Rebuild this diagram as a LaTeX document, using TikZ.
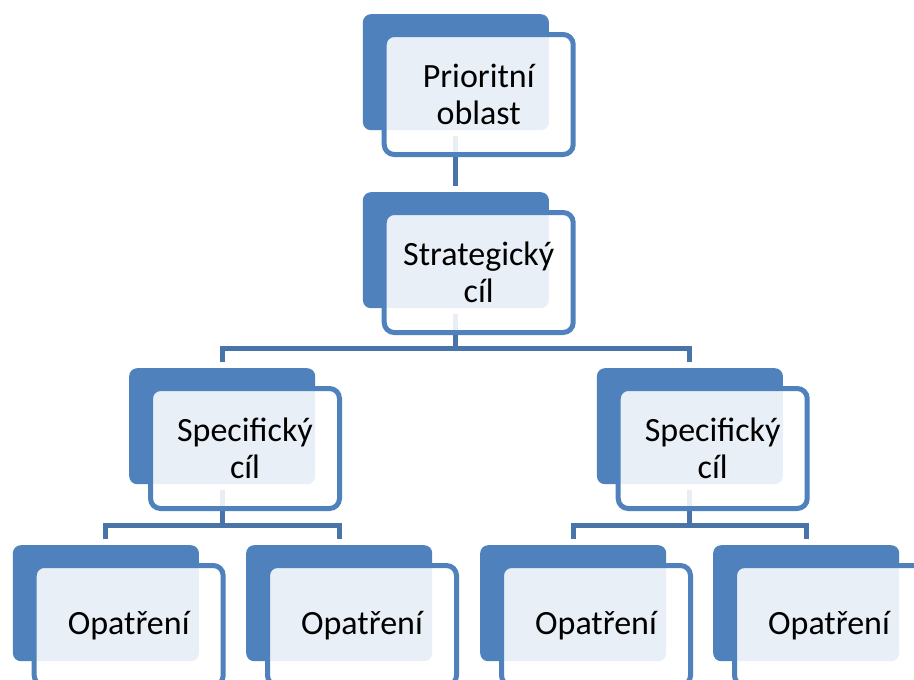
\documentclass[tikz,border=0pt]{standalone}
\usepackage{fontspec}
\setmainfont{Carlito}
\usetikzlibrary{calc}
\definecolor{accblue}{HTML}{4F81BD}
\definecolor{connblue}{RGB}{72,116,170}
\tikzset{
  darkbox/.style={rectangle, rounded corners=8pt, fill=accblue, draw=none,
    minimum width=186pt, minimum height=116pt, inner sep=0pt, anchor=north west},
  frontbox/.style={rectangle, rounded corners=10pt, draw=accblue, line width=5pt,
    fill=white, fill opacity=0.88, text opacity=1, draw opacity=1,
    minimum width=189pt, minimum height=120pt, inner sep=0pt, anchor=north west,
    align=center, font=\fontsize{34pt}{37pt}\selectfont, text=black},
  conn/.style={draw=connblue, line width=5pt},
}
\newcommand{\frontat}[3]{\node[frontbox] (#2) at ($(#1.north west)+(19pt,-18pt)$) {#3};}
\begin{document}
\begin{tikzpicture}[x=1pt,y=-1pt]
\useasboundingbox (0,0) rectangle (914,680);
\clip (0,0) rectangle (914,680);
% dark back boxes
\node[darkbox] (Pd) at (362.7,14) {};
\node[darkbox] (Sd) at (362.7,192) {};
\node[darkbox] (C1d) at (129,368) {};
\node[darkbox] (C2d) at (596.7,368) {};
\node[darkbox] (O1d) at (12.7,545) {};
\node[darkbox] (O2d) at (246,545) {};
\node[darkbox] (O3d) at (480,545) {};
\node[darkbox] (O4d) at (713,545) {};
% bar levels
\coordinate (barS) at ($(C1d.north)+(0,20pt)$);
\coordinate (barC) at ($(O1d.north)+(0,20pt)$);
% connectors
\draw[conn] ([yshift=-6pt]Pd.south) -- ([yshift=6pt]Sd.north);
\draw[conn] ([yshift=-6pt]Sd.south) -- (Sd.south |- barS) -| ([yshift=6pt]C1d.north);
\draw[conn] ([yshift=-6pt]Sd.south) -- (Sd.south |- barS) -| ([yshift=6pt]C2d.north);
\draw[conn] ([yshift=-6pt]C1d.south) -- (C1d.south |- barC) -| ([yshift=6pt]O1d.north);
\draw[conn] ([yshift=-6pt]C1d.south) -- (C1d.south |- barC) -| ([yshift=6pt]O2d.north);
\draw[conn] ([yshift=-6pt]C2d.south) -- (C2d.south |- barC) -| ([yshift=6pt]O3d.north);
\draw[conn] ([yshift=-6pt]C2d.south) -- (C2d.south |- barC) -| ([yshift=6pt]O4d.north);
% front boxes
\frontat{Pd}{Pf}{Prioritní\\oblast}
\frontat{Sd}{Sf}{Strategický\\cíl}
\frontat{C1d}{C1f}{Specifický\\cíl}
\frontat{C2d}{C2f}{Specifický\\cíl}
\frontat{O1d}{O1f}{Opatření}
\frontat{O2d}{O2f}{Opatření}
\frontat{O3d}{O3f}{Opatření}
\frontat{O4d}{O4f}{Opatření}
\end{tikzpicture}
\end{document}
